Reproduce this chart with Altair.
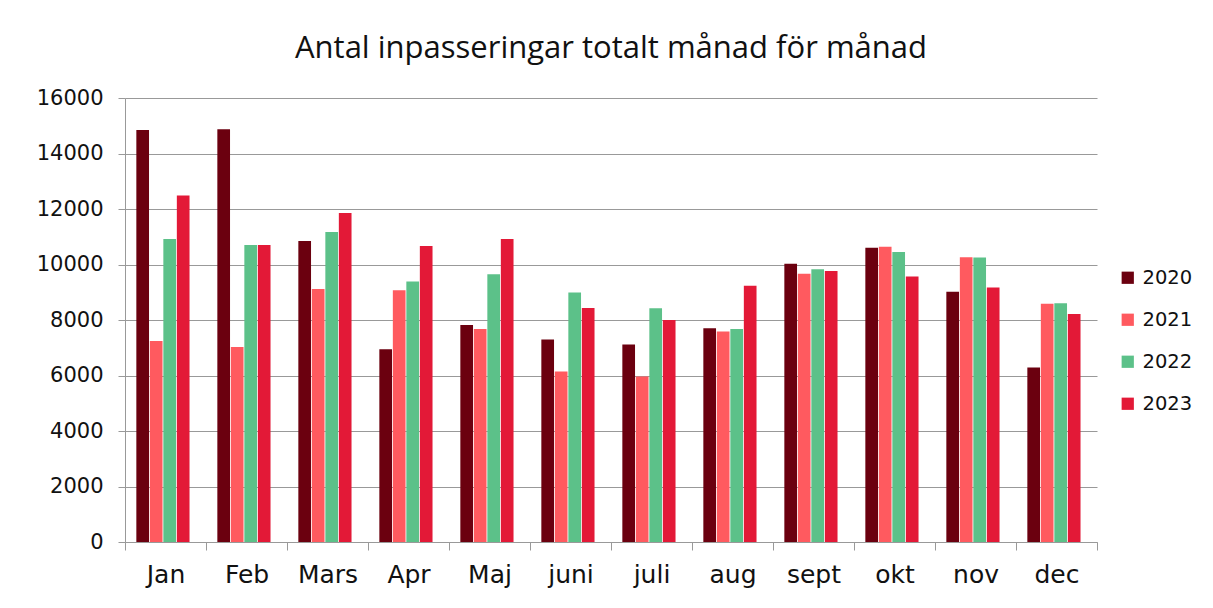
import altair as alt
import pandas as pd

months = ["Jan", "Feb", "Mars", "Apr", "Maj", "juni", "juli", "aug", "sept", "okt", "nov", "dec"]
years = ["2020", "2021", "2022", "2023"]
v2020 = [14850, 14870, 10850, 6950, 7820, 7300, 7120, 7700, 10030, 10600, 9020, 6290]
v2021 = [7240, 7030, 9120, 9070, 7680, 6140, 5960, 7590, 9670, 10640, 10260, 8590]
v2022 = [10920, 10700, 11170, 9390, 9650, 8990, 8420, 7680, 9830, 10450, 10250, 8600]
v2023 = [12490, 10700, 11860, 10670, 10920, 8430, 8000, 9230, 9770, 9570, 9170, 8220]
colors = ["#6B000F", "#FF5A5F", "#5CC189", "#E31937"]

rows = []
for y, vals in zip(years, [v2020, v2021, v2022, v2023]):
    for m, v in zip(months, vals):
        rows.append({"Månad": m, "År": y, "Antal": v})
df = pd.DataFrame(rows)

FONT = "DejaVu Sans"

chart = alt.Chart(df).mark_bar(width=alt.RelativeBandSize(0.94)).encode(
    x=alt.X("Månad:N", sort=months, title=None,
            scale=alt.Scale(paddingInner=0, paddingOuter=0),
            axis=alt.Axis(labelAngle=0, labelFontSize=25, labelPadding=12, labelColor="#111111",
                          tickBand="extent", tickSize=8, tickColor="#999999",
                          domainColor="#999999", labelFont=FONT, grid=False)),
    xOffset=alt.XOffset("År:N", sort=years,
                        scale=alt.Scale(paddingInner=0, paddingOuter=1, align=0.33)),
    y=alt.Y("Antal:Q", title=None,
            scale=alt.Scale(domain=[0, 16000]),
            axis=alt.Axis(values=list(range(0, 16001, 2000)), format="d", labelFontSize=21,
                          labelColor="#111111", labelFont=FONT, labelPadding=15,
                          tickSize=7, tickColor="#999999", domainColor="#999999",
                          gridColor="#999999", gridWidth=1.2)),
    color=alt.Color("År:N", sort=years, scale=alt.Scale(domain=years, range=colors),
                    legend=alt.Legend(title=None, symbolType="square", symbolSize=150,
                                      symbolStrokeWidth=0, labelFontSize=19.5, labelFont=FONT,
                                      labelColor="#111111", rowPadding=21,
                                      orient="none", legendX=993, legendY=170,
                                      padding=0, labelOffset=5)),
).properties(
    width=972, height=444,
    title=alt.Title("Antal inpasseringar totalt månad för månad", fontSize=31,
                    font="Open Sans", fontWeight="normal", color="#111111", offset=22),
    autosize=alt.AutoSizeParams(type="none"),
    padding={"left": 117, "top": 90, "right": 100, "bottom": 50},
).configure_view(stroke=None)

chart.save("out.html", embed_options={"renderer": "svg", "actions": False})
